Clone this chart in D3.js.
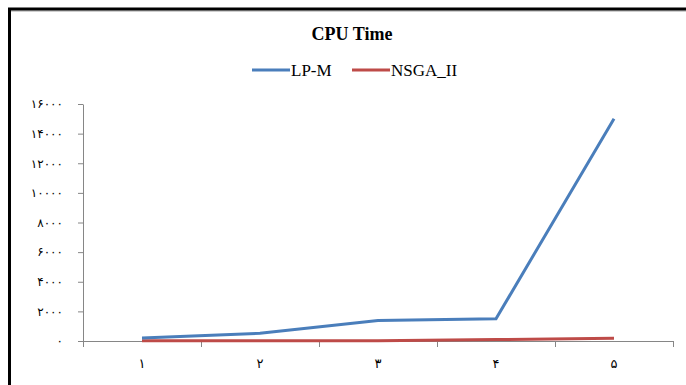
<!DOCTYPE html>
<html>
<head>
<meta charset="utf-8">
<script src="https://cdn.jsdelivr.net/npm/d3@7"></script>
<style>
  body { margin: 0; background: #fff; }
  svg { display: block; }
</style>
</head>
<body>
<div id="chart"></div>
<script>
var categories = [1, 2, 3, 4, 5];
var lpm = [200, 520, 1380, 1500, 15000];
var nsga = [10, 15, 25, 100, 180];
var yTicks = [0, 2000, 4000, 6000, 8000, 10000, 12000, 14000, 16000];

var W = 686, H = 385;

var fa = d3.formatLocale({
	decimal: ".", thousands: "", grouping: [3], currency: ["", ""],
	numerals: ["۰","۱","۲","۳","۴","۵","۶","۷","۸","۹"]
});
var fmt = fa.format("d");

var svg = d3.select("#chart").append("svg")
	.attr("width", W)
	.attr("height", H);

// frame
svg.append("line").attr("x1", 9).attr("x2", W).attr("y1", 11).attr("y2", 11)
	.attr("stroke", "#a0a0a0").attr("stroke-width", 1);
svg.append("rect")
	.attr("x", 9.5).attr("y", 9)
	.attr("width", W + 20).attr("height", H + 20)
	.attr("fill", "none")
	.attr("stroke", "#000")
	.attr("stroke-width", 3);

var x = d3.scaleLinear().domain([0, categories.length]).range([83, 673]);
var y = d3.scaleLinear().domain([0, 16000]).range([341, 104]);

// y axis
var yAxis = svg.append("g")
	.attr("transform", "translate(83,0)")
	.call(d3.axisLeft(y).tickValues(yTicks).tickSize(5).tickSizeOuter(0).tickFormat(fmt));
yAxis.selectAll("path, line").attr("stroke", "#868686");
yAxis.selectAll("text")
	.attr("x", -20)
	.attr("font-family", "DejaVu Sans")
	.attr("font-size", 12)
	.attr("letter-spacing", 1)
	.attr("fill", "#000");

// x axis
var xAxis = svg.append("g")
	.attr("transform", "translate(0,341)")
	.call(d3.axisBottom(x).tickValues(d3.range(categories.length + 1)).tickSize(6).tickSizeOuter(0).tickFormat(""));
xAxis.selectAll("path, line").attr("stroke", "#868686");

svg.append("g").selectAll("text")
	.data(categories).enter()
	.append("text")
	.attr("x", function(d, i){ return x(i + 0.5); })
	.attr("y", 368)
	.attr("text-anchor", "middle")
	.attr("font-family", "DejaVu Sans")
	.attr("font-size", 13)
	.text(function(d){ return fmt(d); });

var line = d3.line()
	.x(function(d, i){ return x(i + 0.5); })
	.y(function(d){ return y(d); });

svg.append("path").datum(nsga)
	.attr("d", line)
	.attr("fill", "none")
	.attr("stroke", "#BE4B48")
	.attr("stroke-width", 3);

svg.append("path").datum(lpm)
	.attr("d", line)
	.attr("fill", "none")
	.attr("stroke", "#4A7EBB")
	.attr("stroke-width", 3);

// title
svg.append("text")
	.attr("x", 352)
	.attr("y", 40)
	.attr("text-anchor", "middle")
	.attr("font-family", "Liberation Serif")
	.attr("font-weight", "bold")
	.attr("font-size", 18)
	.text("CPU Time");

// legend
var legend = [
	{name: "LP-M", color: "#4A7EBB", x: 252},
	{name: "NSGA_II", color: "#BE4B48", x: 352}
];
var lg = svg.append("g").selectAll("g")
	.data(legend).enter()
	.append("g")
	.attr("transform", function(d){ return "translate(" + d.x + ",70)"; });
lg.append("line")
	.attr("x1", 0).attr("x2", 38)
	.attr("stroke", function(d){ return d.color; })
	.attr("stroke-width", 3);
lg.append("text")
	.attr("x", 39)
	.attr("y", 6)
	.attr("font-family", "Liberation Serif")
	.attr("font-size", 17)
	.text(function(d){ return d.name; });
</script>
</body>
</html>
